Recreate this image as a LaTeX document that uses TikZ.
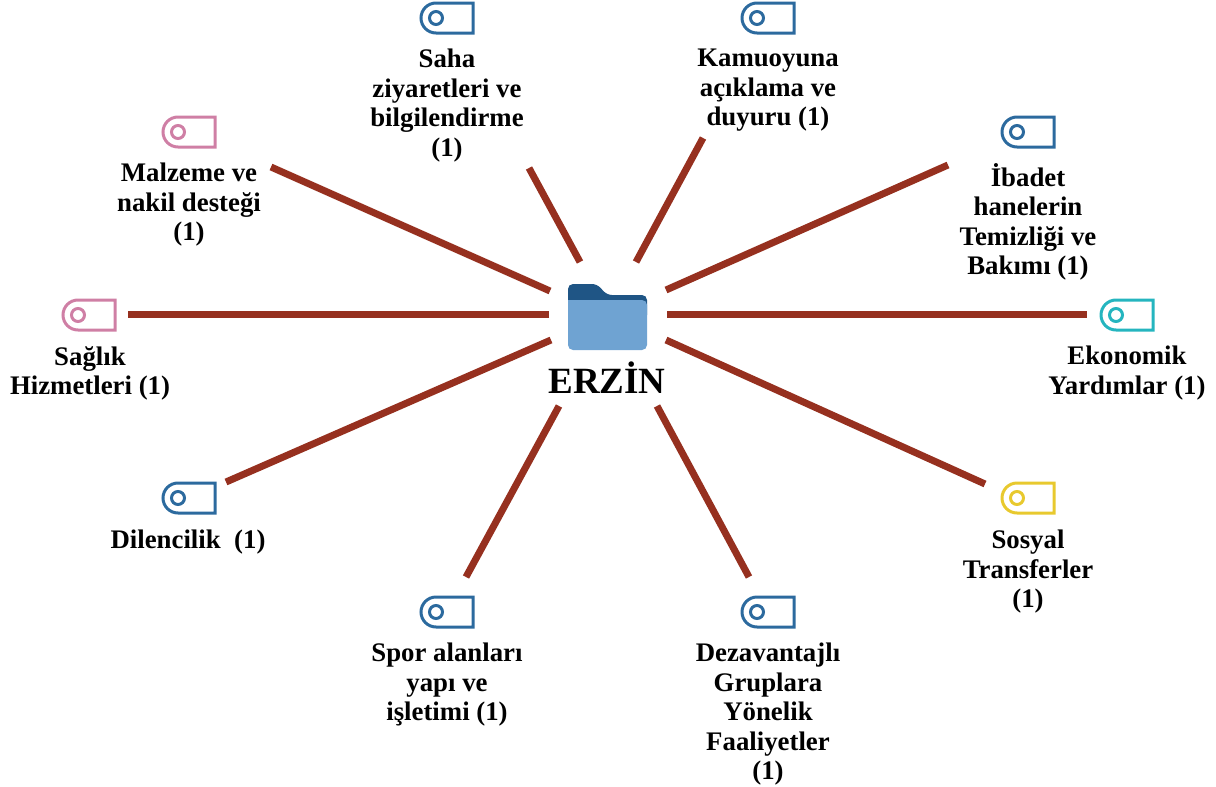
\documentclass[tikz,border=0pt]{standalone}
\usepackage{fontspec}
\setmainfont{Liberation Serif}
\definecolor{linkred}{HTML}{96301F}
\definecolor{tagblue}{HTML}{2C6A9E}
\definecolor{tagpink}{HTML}{CF7FA5}
\definecolor{tagteal}{HTML}{25B5BF}
\definecolor{tagyellow}{HTML}{E8C92E}
\definecolor{folderlight}{HTML}{6FA3D2}
\definecolor{folderdark}{HTML}{1F5585}
\tikzset{
  link/.style={draw=linkred,line width=7pt},
  lbl/.style={font=\bfseries\fontsize{26.8}{29.5}\selectfont,align=center,text=black,inner sep=0pt,anchor=north},
  tagicon/.pic={
    \draw[line width=3pt,draw=tagc] (26,-15) -- (-11,-15) arc[start angle=270,end angle=90,radius=15] -- (26,15) -- cycle;
    \draw[line width=3pt,draw=tagc] (-11,0) circle[radius=6.5];
  }
}
\begin{document}
\begin{tikzpicture}[x=1pt,y=-1pt]
\useasboundingbox (0,0) rectangle (1216,787);
\newcommand{\tagat}[4]{\colorlet{tagc}{#4}\pic (#1) at (#2,#3) {tagicon};}
\fill[folderdark,rounded corners=5pt] (568,320) -- (568,284) -- (597,284) -- (607,295) -- (647,295) -- (647,320) -- cycle;
\fill[folderlight,rounded corners=5pt] (568,300) -- (568,350) -- (647,350) -- (647,300) [sharp corners] -- cycle;
\node[inner sep=0pt,font=\bfseries\fontsize{37}{37}\selectfont] (hub) at (607,378) {ERZİN};
\foreach \n/\a/\b/\c/\d in {
 malz/550/291/271/167, saha/580/262/529/168, kamu/636/262/703/138,
 ibad/666/290/948/165, ekon/667/314/1087/314, sosy/666/340/985/484,
 deza/657/406/749/577, spor/559/406/466/577, dile/551/340/226/482, sagl/549/314/128/314}{
  \coordinate (\n A) at (\a,\b);
  \coordinate (\n B) at (\c,\d);
  \path[link] (\n A) -- (\n B);
}
\tagat{t1}{447}{18}{tagblue}
\tagat{t2}{768}{18}{tagblue}
\tagat{t3}{189}{132}{tagpink}
\tagat{t4}{1028}{132}{tagblue}
\tagat{t5}{89}{315}{tagpink}
\tagat{t6}{1127}{315}{tagteal}
\tagat{t7}{189}{498}{tagblue}
\tagat{t8}{1028}{498}{tagyellow}
\tagat{t9}{447}{612}{tagblue}
\tagat{t10}{768}{612}{tagblue}
\node[lbl] (sahaL) at (447,49) {Saha\\ziyaretleri ve\\bilgilendirme\\(1)};
\node[lbl] (kamuL) at (768,49) {Kamuoyuna\\açıklama ve\\duyuru (1)};
\node[lbl] (malzL) at (189,163) {Malzeme ve\\nakil desteği\\(1)};
\node[lbl] (ibadL) at (1028,163) {İbadet\\hanelerin\\Temizliği ve\\Bakımı (1)};
\node[lbl] (saglL) at (90,346) {Sağlık\\Hizmetleri (1)};
\node[lbl] (ekonL) at (1127,346) {Ekonomik\\Yardımlar (1)};
\node[lbl] (dileL) at (188,530) {Dilencilik~ (1)};
\node[lbl] (sosyL) at (1028,530) {Sosyal\\Transferler\\(1)};
\node[lbl] (sporL) at (447,643) {Spor alanları\\yapı ve\\işletimi (1)};
\node[lbl] (dezaL) at (768,643) {Dezavantajlı\\Gruplara\\Yönelik\\Faaliyetler\\(1)};
\end{tikzpicture}
\end{document}
